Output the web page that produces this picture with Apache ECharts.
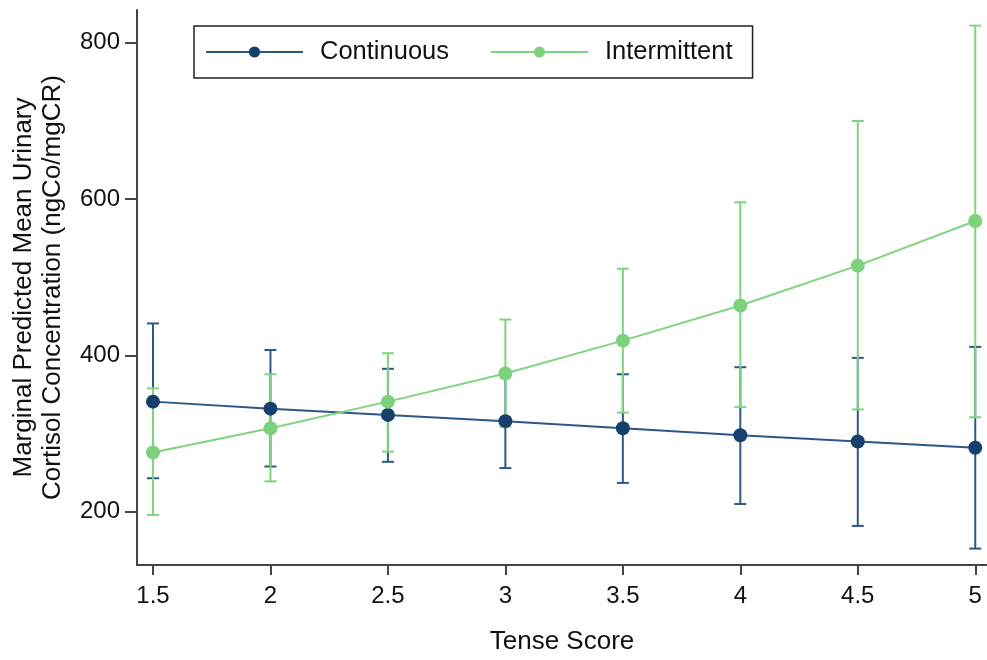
<!DOCTYPE html>
<html>
<head>
<meta charset="utf-8">
<script src="https://cdn.jsdelivr.net/npm/echarts@6/dist/echarts.min.js"></script>
<style>
  html, body { margin: 0; padding: 0; background: #fff; }
  #chart { width: 987px; height: 660px; }
</style>
</head>
<body>
<div id="chart"></div>
<script>
// tense score categories (x)
const tenseScores = [1.5, 2, 2.5, 3, 3.5, 4, 4.5, 5]
const xTicks = [1.5, 2, 2.5, 3, 3.5, 4, 4.5, 5]
const yTicks = [200, 400, 600, 800]

// Continuous
const contMean = [341, 332, 324, 316, 307, 298, 290, 282]
const contLow = [243, 258, 264, 256, 237, 210, 182, 153]
const contHigh = [441, 407, 383, 376, 376, 385, 397, 411]

// Intermittent
const interMean = [276, 307, 341, 377, 419, 464, 515, 572]
const interLow = [196, 239, 277, 309, 327, 334, 331, 321]
const interHigh = [358, 376, 403, 446, 511, 596, 700, 822]

const FONT = 'Liberation Sans, Arial, sans-serif'
const BLUE_LINE = '#2c5889'
const BLUE_DOT = '#163f6b'
const GREEN_LINE = '#7fd47e'
const GREEN_DOT = '#7bd27a'

function errorBars(color) {
  return function(params, api) {
    const x = api.value(0)
    const lo = api.coord([x, api.value(1)])
    const hi = api.coord([x, api.value(2)])
    const half = 6
    const style = { stroke: color, lineWidth: 2 }
    return {
      type: 'group',
      children: [
        { type: 'line', shape: { x1: lo[0], y1: lo[1], x2: hi[0], y2: hi[1] }, style },
        { type: 'line', shape: { x1: lo[0] - half, y1: lo[1], x2: lo[0] + half, y2: lo[1] }, style },
        { type: 'line', shape: { x1: hi[0] - half, y1: hi[1], x2: hi[0] + half, y2: hi[1] }, style }
      ]
    }
  }
}

const chart = echarts.init(document.getElementById('chart'))
const axisCol = '#444'

const option = {
  backgroundColor: '#fff',
  animation: false,
  textStyle: { fontFamily: FONT },
  grid: { left: 137, top: 10, right: 0, bottom: 93 },
  legend: {
    left: 194,
    top: 26,
    padding: [13, 20, 13, 11],
    borderColor: '#222',
    borderWidth: 1.5,
    itemWidth: 97,
    itemHeight: 14,
    itemGap: 41,
    textStyle: { fontSize: 25.5, color: '#111', padding: [0, 0, 0, 12], fontFamily: FONT },
    data: ['Continuous', 'Intermittent']
  },
  xAxis: {
    type: 'value',
    min: 1.432,
    max: 5.05,
    name: 'Tense Score',
    nameLocation: 'middle',
    nameGap: 64,
    nameTextStyle: { fontSize: 26, color: '#111', fontFamily: FONT },
    splitLine: { show: false },
    axisLine: { lineStyle: { color: axisCol, width: 2 } },
    axisTick: { customValues: xTicks, length: 10, lineStyle: { color: axisCol, width: 2 } },
    axisLabel: { customValues: xTicks, fontSize: 24, color: '#111', margin: 19, fontFamily: FONT }
  },
  yAxis: {
    type: 'value',
    min: 132,
    max: 842,
    name: 'Marginal Predicted Mean Urinary\nCortisol Concentration (ngCo/mgCR)',
    nameLocation: 'middle',
    nameGap: 70,
    nameTextStyle: { fontSize: 26, lineHeight: 29, color: '#111', fontFamily: FONT },
    splitLine: { show: false },
    axisLine: { show: true, lineStyle: { color: axisCol, width: 2 } },
    axisTick: { show: true, customValues: yTicks, length: 12, lineStyle: { color: axisCol, width: 2 } },
    axisLabel: { customValues: yTicks, fontSize: 24, color: '#111', margin: 17, fontFamily: FONT }
  },
  series: [
    {
      type: 'custom',
      name: 'ciContinuous',
      z: 1,
      renderItem: errorBars(BLUE_LINE),
      encode: { x: 0, y: [1, 2] },
      data: tenseScores.map((x, i) => [x, contLow[i], contHigh[i]])
    },
    {
      type: 'custom',
      name: 'ciIntermittent',
      z: 2,
      renderItem: errorBars(GREEN_LINE),
      encode: { x: 0, y: [1, 2] },
      data: tenseScores.map((x, i) => [x, interLow[i], interHigh[i]])
    },
    {
      type: 'line',
      name: 'Continuous',
      z: 3,
      symbol: 'circle',
      symbolSize: 14,
      lineStyle: { color: BLUE_LINE, width: 2 },
      itemStyle: { color: BLUE_DOT },
      data: tenseScores.map((x, i) => [x, contMean[i]])
    },
    {
      type: 'line',
      name: 'Intermittent',
      z: 4,
      symbol: 'circle',
      symbolSize: 14,
      lineStyle: { color: GREEN_LINE, width: 2 },
      itemStyle: { color: GREEN_DOT },
      data: tenseScores.map((x, i) => [x, interMean[i]])
    }
  ]
}

chart.setOption(option)
</script>
</body>
</html>
